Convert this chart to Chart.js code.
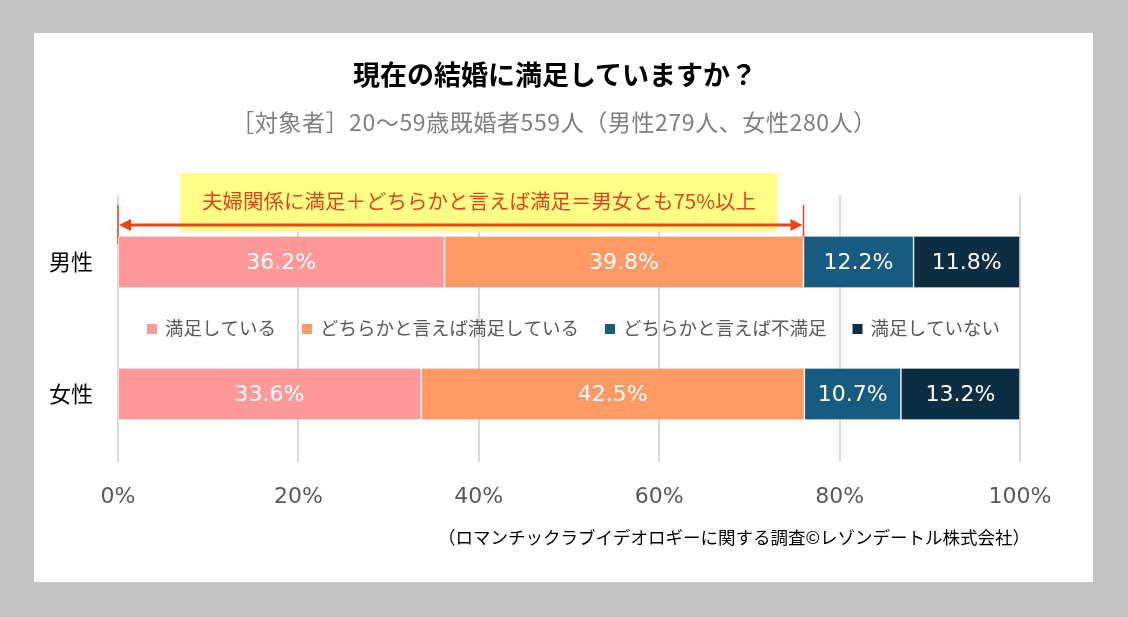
<!DOCTYPE html>
<html lang="ja">
<head>
<meta charset="utf-8">
<title>現在の結婚に満足していますか？</title>
<script src="https://cdn.jsdelivr.net/npm/chart.js@4.4.1/dist/chart.umd.min.js"></script>
<style>
  body { margin: 0; background: #c3c3c3; width: 1128px; height: 617px; overflow: hidden; position: relative; }
  #panel { position: absolute; left: 34px; top: 33px; width: 1059px; height: 549px; background: #fff; }
  #chart { position: absolute; left: 0; top: 0; }
  .txt { position: absolute; left: 0; white-space: nowrap; font-family: "Noto Sans CJK JP", sans-serif; }
  #title { top: 59px; width: 1110px; text-align: center; font-size: 27px; line-height: 30px; font-weight: bold; color: #000; }
  #subtitle { top: 106px; width: 1108px; text-align: center; font-size: 23px; line-height: 30px; letter-spacing: 0.6px; color: #7f7f7f; }
  #source { top: 524px; width: 1030px; text-align: right; font-size: 17.5px; line-height: 26px; color: #000; }
</style>
</head>
<body>
<div id="panel"></div>
<canvas id="chart" width="1128" height="617"></canvas>
<div id="title" class="txt">現在の結婚に満足していますか？</div>
<div id="subtitle" class="txt">［対象者］20～59歳既婚者559人（男性279人、女性280人）</div>
<div id="source" class="txt">（ロマンチックラブイデオロギーに関する調査©レゾンデートル株式会社）</div>
<script>
  // rows: the empty middle row holds the legend
  const categories = ["男性", "", "女性"];
  const seriesNames = ["満足している", "どちらかと言えば満足している", "どちらかと言えば不満足", "満足していない"];
  const satisfied = [36.2, null, 33.6];
  const ratherSatisfied = [39.8, null, 42.5];
  const ratherUnsatisfied = [12.2, null, 10.7];
  const unsatisfied = [11.8, null, 13.2];
  const xTicks = [0, 20, 40, 60, 80, 100];
  const seriesColors = ["#ff9999", "#ff9966", "#175b80", "#0c2d42"];
  const noteText = "夫婦関係に満足＋どちらかと言えば満足＝男女とも75%以上";

  const JP = '"Noto Sans CJK JP", sans-serif';
  const NUM = '"DejaVu Sans", sans-serif';

  const gridPlugin = {
    id: "grid",
    beforeDatasetsDraw(chart) {
      const { ctx, chartArea, scales } = chart;
      ctx.save();
      ctx.strokeStyle = "#d9d9d9";
      ctx.lineWidth = 2;
      xTicks.forEach(v => {
        const px = Math.round(scales.x.getPixelForValue(v));
        ctx.beginPath();
        ctx.moveTo(px, chartArea.top - 34);
        ctx.lineTo(px, chartArea.bottom + 35);
        ctx.stroke();
      });

      // yellow note box
      ctx.fillStyle = "#ffff88";
      ctx.fillRect(180, 173, 597, 58);
      ctx.fillStyle = "#e0441a";
      ctx.font = "20.5px " + JP;
      ctx.textAlign = "center";
      ctx.textBaseline = "middle";
      ctx.fillText(noteText, 479, 201);

      // double arrow over the satisfied share of men
      const x0 = scales.x.getPixelForValue(0);
      const x1 = scales.x.getPixelForValue(satisfied[0] + ratherSatisfied[0]);
      const ay = 225;
      ctx.strokeStyle = "#e8461a";
      ctx.fillStyle = "#e8461a";
      ctx.lineWidth = 3;
      ctx.beginPath();
      ctx.moveTo(x0 + 8, ay);
      ctx.lineTo(x1 - 8, ay);
      ctx.stroke();
      ctx.lineWidth = 1.5;
      [x0, x1].forEach(px => {
        ctx.beginPath();
        ctx.moveTo(px, ay - 20);
        ctx.lineTo(px, ay + 19);
        ctx.stroke();
      });
      ctx.beginPath();
      ctx.moveTo(x0 + 1, ay);
      ctx.lineTo(x0 + 13, ay - 6);
      ctx.lineTo(x0 + 13, ay + 6);
      ctx.closePath();
      ctx.fill();
      ctx.beginPath();
      ctx.moveTo(x1 - 1, ay);
      ctx.lineTo(x1 - 13, ay - 6);
      ctx.lineTo(x1 - 13, ay + 6);
      ctx.closePath();
      ctx.fill();
      ctx.restore();
    }
  };

  const labelPlugin = {
    id: "labels",
    afterDatasetsDraw(chart) {
      const { ctx, chartArea, scales } = chart;
      ctx.save();
      ctx.font = "22px " + NUM;
      ctx.fillStyle = "#fff";
      ctx.textAlign = "center";
      ctx.textBaseline = "middle";
      chart.data.datasets.forEach((ds, i) => {
        chart.getDatasetMeta(i).data.forEach((bar, j) => {
          const v = ds.data[j];
          if (v == null) return;
          const p = bar.getCenterPoint();
          ctx.fillText(v.toFixed(1) + "%", p.x, p.y + 1);
        });
      });

      // legend in the middle row
      const ly = scales.y.getPixelForValue(1);
      ctx.font = "18.5px " + JP;
      ctx.textAlign = "left";
      let lx = chartArea.left + 29;
      chart.data.datasets.forEach(ds => {
        ctx.fillStyle = ds.backgroundColor;
        ctx.fillRect(lx, ly - 4, 10, 10);
        lx += 18;
        ctx.fillStyle = "#595959";
        ctx.fillText(ds.label, lx, ly);
        lx += ctx.measureText(ds.label).width + 26;
      });
      ctx.restore();
    }
  };

  const seriesData = [satisfied, ratherSatisfied, ratherUnsatisfied, unsatisfied];

  new Chart(document.getElementById("chart"), {
    type: "bar",
    data: {
      labels: categories,
      datasets: seriesNames.map((name, i) => ({
        label: name,
        data: seriesData[i],
        backgroundColor: seriesColors[i],
        borderColor: "#fff",
        borderWidth: { left: 1, right: 1, top: 0, bottom: 0 },
        borderSkipped: false,
        barThickness: 51
      }))
    },
    options: {
      indexAxis: "y",
      responsive: false,
      animation: false,
      layout: { padding: { left: 38, right: 108, top: 229, bottom: 100 } },
      plugins: {
        legend: { display: false },
        tooltip: { enabled: false }
      },
      scales: {
        x: {
          stacked: true,
          min: 0,
          max: 100,
          afterBuildTicks: s => { s.ticks = xTicks.map(v => ({ value: v })); },
          afterFit: s => { s.height = 90; },
          grid: { display: false },
          border: { display: false },
          ticks: {
            padding: 49,
            color: "#595959",
            font: { family: NUM, size: 22 },
            callback: v => v + "%"
          }
        },
        y: {
          stacked: true,
          afterFit: s => { s.width = 80; },
          grid: { display: false },
          border: { display: false },
          ticks: {
            padding: 17,
            color: "#000",
            font: { family: JP, size: 22 }
          }
        }
      }
    },
    plugins: [gridPlugin, labelPlugin]
  });
</script>
</body>
</html>
